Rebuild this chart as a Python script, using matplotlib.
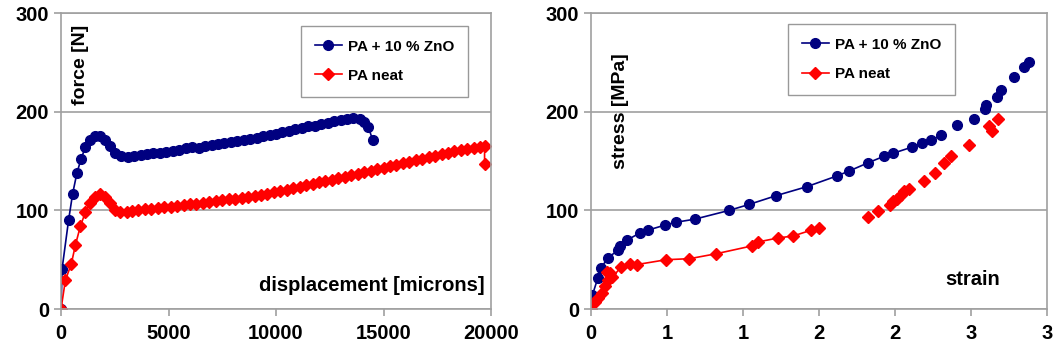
import matplotlib
matplotlib.use("Agg")
import matplotlib.pyplot as plt

plt.rcParams['font.family'] = ['Liberation Sans', 'DejaVu Sans']
plt.rcParams['font.weight'] = 'bold'

# left panel: force vs displacement
disp_zno = [0, 50, 350, 540, 740, 930, 1130, 1360, 1600, 1830, 2060, 2290, 2520, 2800,
            3100, 3400, 3700, 4000, 4300, 4600, 4900, 5200, 5500, 5800, 6100, 6400, 6700,
            7000, 7300, 7600, 7900, 8200, 8500, 8800, 9100, 9400, 9700, 10000, 10300,
            10600, 10900, 11200, 11500, 11800, 12100, 12400, 12700, 13000, 13300, 13600,
            13900, 14100, 14300, 14500]
force_zno = [0, 41, 90, 117, 138, 152, 164, 171, 175, 175, 171, 165, 158, 155,
             154, 155, 156, 157, 158, 158, 159, 160, 161, 163, 164, 163, 165,
             166, 167, 168, 169, 170, 171, 172, 173, 175, 176, 177, 179,
             180, 182, 183, 185, 186, 188, 189, 191, 192, 193, 194,
             193, 190, 184, 171]

disp_neat = [0, 200, 480, 670, 900, 1130, 1330, 1560, 1800, 2030, 2290, 2530, 2760, 3050,
             3300, 3600, 3900, 4200, 4500, 4800, 5100, 5400, 5700, 6000, 6300, 6600, 6900,
             7200, 7500, 7800, 8100, 8400, 8700, 9000, 9300, 9600, 9900, 10200, 10500,
             10800, 11100, 11400, 11700, 12000, 12300, 12600, 12900, 13200, 13500, 13800,
             14100, 14400, 14700, 15000, 15300, 15600, 15900, 16200, 16500, 16800, 17100,
             17400, 17700, 18000, 18300, 18600, 18900, 19200, 19500, 19700, 19700]
force_neat = [0, 29, 46, 65, 84, 98, 107, 114, 117, 114, 107, 100, 98, 98,
              99, 100, 101, 101, 102, 103, 103, 104, 105, 106, 106, 107, 108,
              109, 110, 111, 112, 113, 114, 115, 116, 117, 119, 120, 121,
              123, 124, 126, 127, 129, 130, 131, 133, 134, 136, 137,
              139, 140, 142, 143, 145, 146, 148, 149, 151, 152, 154,
              155, 157, 158, 160, 161, 162, 163, 164, 165, 147]

# right panel: stress vs strain (points after the gap are unconnected)
strain_zno = [0, 0.009, 0.044, 0.066, 0.114, 0.179, 0.19, 0.238, 0.321, 0.376, 0.485,
              0.561, 0.681, 0.91, 1.04, 1.22, 1.42, 1.62, 1.70, 1.82, 1.93, 1.99, 2.11,
              2.18, 2.24, 2.30,
              2.41, 2.52, 2.59, 2.60, 2.67, 2.70, 2.78, 2.85, 2.88]
stress_zno = [0, 14, 31, 42, 52, 60, 64, 70, 77, 80, 85,
              88, 91, 100, 106, 115, 124, 135, 140, 148, 155, 158, 164,
              168, 171, 176,
              187, 193, 203, 207, 215, 222, 235, 245, 250]
n_line_zno = 26

strain_neat = [0, 0.026, 0.048, 0.07, 0.09, 0.114, 0.107, 0.125, 0.14, 0.20, 0.255, 0.30,
               0.496, 0.648, 0.823, 1.06, 1.10, 1.23, 1.33, 1.45, 1.50,
               1.82, 1.89, 1.97, 1.99, 2.01, 2.04, 2.06, 2.09, 2.19, 2.26, 2.32, 2.37,
               2.49, 2.62, 2.64, 2.68]
stress_neat = [0, 7, 11, 16, 23, 29, 38, 36, 32, 43, 46, 45,
               50, 51, 56, 64, 68, 72, 74, 80, 82,
               93, 99, 105, 109, 112, 116, 120, 122, 130, 138, 148, 155,
               166, 185, 180, 193]
n_line_neat = 21

strain_ticks = [0, 0.5, 1.0, 1.5, 2.0, 2.5, 3.0]
strain_labels = ['0', '1', '1', '2', '2', '3', '3']

blue = '#000080'
red = '#ff0000'
gray = '#a0a0a0'

fig = plt.figure(figsize=(10.58, 3.53), dpi=100)
ax1 = fig.add_axes([0.0577, 0.1246, 0.4064, 0.8385])
ax2 = fig.add_axes([0.5586, 0.1246, 0.431, 0.8385])


def style(ax):
    for s in ax.spines.values():
        s.set_color(gray)
        s.set_linewidth(1.2)
    ax.set_yticks([0, 100, 200, 300])
    ax.set_ylim(0, 300)
    ax.yaxis.grid(True, color=gray, linewidth=1.2)
    ax.set_axisbelow(True)
    ax.tick_params(direction='out', color=gray, length=5, width=1.2, labelsize=14.5)
    ax.tick_params(axis='x', pad=6)


def legend(ax, x0, y0):
    ax.legend(loc='upper left', bbox_to_anchor=(x0, y0), borderaxespad=0,
              fancybox=False, edgecolor='#808080', fontsize=11, borderpad=0.9,
              labelspacing=1.0, handlelength=1.8, handletextpad=0.35)


ax1.plot(disp_zno, force_zno, color=blue, marker='o', ms=7, lw=1.2, label='PA + 10 % ZnO')
ax1.plot(disp_neat, force_neat, color=red, marker='D', ms=6, lw=1.2, label='PA neat')
ax1.set_xlim(0, 20000)
ax1.set_xticks([0, 5000, 10000, 15000, 20000])
style(ax1)
ax1.text(0.045, 0.96, 'force [N]', rotation=90, transform=ax1.transAxes,
         ha='center', va='top', fontsize=14)
ax1.text(0.986, 0.08, 'displacement [microns]', transform=ax1.transAxes,
         ha='right', va='center', fontsize=14.5)
legend(ax1, 0.558, 0.957)

ax2.plot(strain_zno[:n_line_zno], stress_zno[:n_line_zno], color=blue, marker='o',
         ms=7, lw=1.2, label='PA + 10 % ZnO')
ax2.plot(strain_zno[n_line_zno:], stress_zno[n_line_zno:], color=blue, marker='o',
         ms=7, lw=0)
ax2.plot(strain_neat[:n_line_neat], stress_neat[:n_line_neat], color=red, marker='D',
         ms=6, lw=1.2, label='PA neat')
ax2.plot(strain_neat[n_line_neat:], stress_neat[n_line_neat:], color=red, marker='D',
         ms=6, lw=0)
ax2.set_xlim(0, 3.0)
ax2.set_xticks(strain_ticks)
ax2.set_xticklabels(strain_labels)
style(ax2)
ax2.text(0.064, 0.865, 'stress [MPa]', rotation=90, transform=ax2.transAxes,
         ha='center', va='top', fontsize=14)
ax2.text(0.838, 0.1, 'strain', transform=ax2.transAxes,
         ha='center', va='center', fontsize=14.5)
legend(ax2, 0.432, 0.963)

fig.savefig('out.png', dpi=100)
